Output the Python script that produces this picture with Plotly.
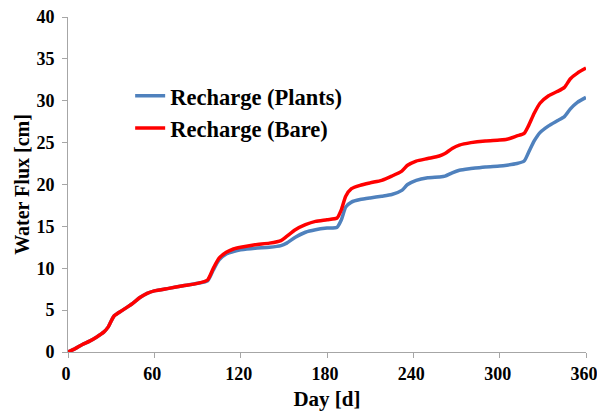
import plotly.graph_objects as go

days_bare = [0, 5, 10, 15, 20, 25, 28, 32, 38, 45, 50, 55, 60, 70, 80, 90, 97, 101, 105, 110, 115, 120, 130, 140, 148, 152, 158, 165, 172, 180, 187, 190, 193, 197, 203, 210, 218, 225, 232, 236, 242, 250, 258, 262, 267, 272, 280, 290, 300, 305, 312, 317, 320, 324, 328, 334, 340, 345, 349, 354, 360]
recharge_bare = [0, 0.4, 0.9, 1.3, 1.8, 2.4, 3.0, 4.3, 5.0, 5.8, 6.5, 7.0, 7.3, 7.6, 7.9, 8.2, 8.6, 10.0, 11.2, 11.9, 12.3, 12.5, 12.8, 13.0, 13.3, 13.8, 14.6, 15.2, 15.6, 15.8, 16.0, 17.0, 18.6, 19.5, 19.9, 20.2, 20.5, 21.0, 21.6, 22.3, 22.8, 23.1, 23.4, 23.7, 24.3, 24.7, 25.0, 25.2, 25.3, 25.4, 25.8, 26.1, 27.0, 28.5, 29.7, 30.6, 31.1, 31.6, 32.6, 33.3, 33.9]

days_plants = days_bare
recharge_plants = [0, 0.4, 0.9, 1.3, 1.8, 2.4, 3.0, 4.3, 5.0, 5.8, 6.5, 7.0, 7.3, 7.6, 7.9, 8.2, 8.5, 9.8, 11.0, 11.7, 12.0, 12.2, 12.4, 12.5, 12.7, 13.0, 13.7, 14.3, 14.6, 14.8, 14.9, 15.8, 17.3, 17.9, 18.2, 18.4, 18.6, 18.8, 19.3, 20.0, 20.5, 20.8, 20.9, 21.0, 21.4, 21.7, 21.9, 22.1, 22.2, 22.3, 22.5, 22.8, 23.8, 25.2, 26.2, 27.0, 27.6, 28.1, 29.0, 29.8, 30.4]

x_ticks = [0, 60, 120, 180, 240, 300, 360]
y_ticks = [0, 5, 10, 15, 20, 25, 30, 35, 40]

font_family = "Liberation Serif, Times New Roman, serif"

fig = go.Figure()
fig.add_trace(go.Scatter(x=days_plants, y=recharge_plants, mode="lines",
                         name="Recharge (Plants)", legendgroup="a",
                         line=dict(color="#4F81BD", width=3.5, shape="spline", smoothing=0.6)))
fig.add_trace(go.Scatter(x=days_bare, y=recharge_bare, mode="lines",
                         name="Recharge (Bare)", legendgroup="b",
                         line=dict(color="#FF0000", width=3.5, shape="spline", smoothing=0.6)))

axis_common = dict(showgrid=False, zeroline=False, showline=True, linecolor="#A6A6A6",
                   linewidth=1, ticks="outside", tickcolor="#A6A6A6", ticklen=5,
                   automargin=False, ticklabeloverflow="allow",
                   tickfont=dict(family=font_family, size=18, color="black"))

fig.update_layout(
    width=597, height=403,
    margin=dict(l=60, r=19, t=9, b=59),
    paper_bgcolor="white", plot_bgcolor="white",
    font=dict(family=font_family, color="black"),
    showlegend=True,
    legend=dict(x=0.12, y=0.828, xanchor="left", yanchor="top",
                font=dict(family=font_family, size=22.5, color="black", weight="bold"),
                bgcolor="rgba(0,0,0,0)", traceorder="grouped", tracegroupgap=0,
                itemwidth=30),
    xaxis=dict(range=[0, 360], tickvals=x_ticks, ticktext=[f"<b>{t}</b>" for t in x_ticks],
               title=dict(text="<b>Day [d]</b>", font=dict(family=font_family, size=21), standoff=13),
               ticklabelshift=-2,
               **axis_common),
    yaxis=dict(range=[0, 40], tickvals=y_ticks, ticktext=[f"<b>{t}</b>" for t in y_ticks],
               title=dict(text="<b>Water Flux [cm]</b>", font=dict(family=font_family, size=20), standoff=1),
               ticklabelstandoff=4,
               **axis_common),
)

fig.write_html("out.html")
